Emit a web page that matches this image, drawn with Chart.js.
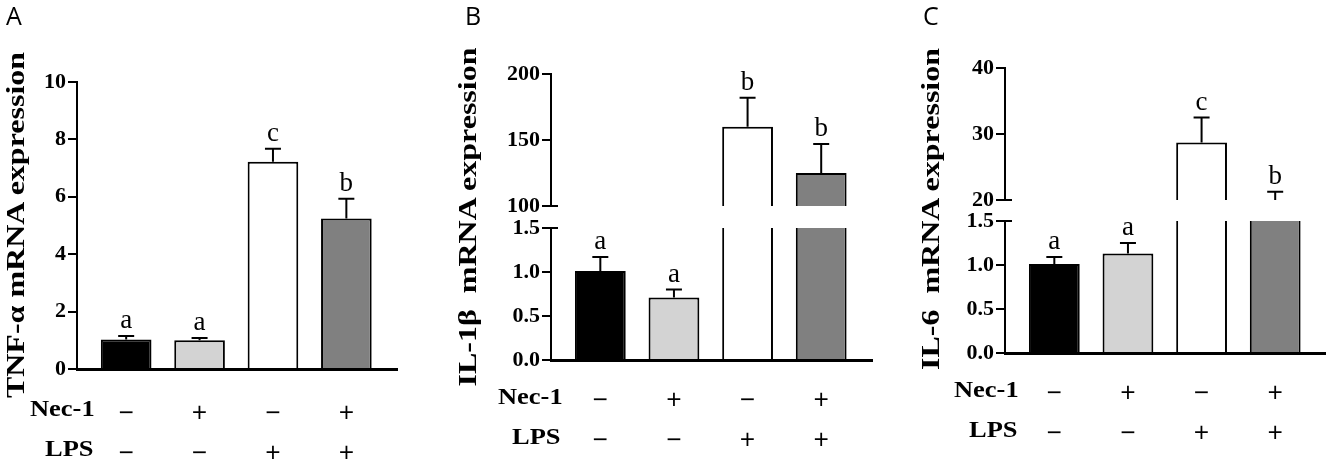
<!DOCTYPE html>
<html>
<head>
<meta charset="utf-8">
<script src="https://cdn.jsdelivr.net/npm/chart.js@4.4.1/dist/chart.umd.min.js"></script>
<style>
html,body{margin:0;padding:0;background:#fff}
body{width:1326px;height:459px;position:relative;overflow:hidden}
canvas{position:absolute;top:0}
.t{position:absolute;white-space:nowrap;line-height:1;color:#000}
.panel{font-family:'Open Sans';font-size:25px}
.row{font-family:'Liberation Serif';font-weight:bold;font-size:23px;transform-origin:0 0;transform:scaleX(1.15)}
.ytitle{font-family:'Liberation Serif';font-weight:bold;font-size:32px;transform:translate(-50%,-50%) rotate(-90deg) scaleY(0.78)}
</style>
</head>
<body>
<canvas id="cA" width="440" height="459" style="left:0px"></canvas>
<canvas id="cBbot" width="440" height="459" style="left:440px"></canvas>
<canvas id="cBtop" width="440" height="459" style="left:440px"></canvas>
<canvas id="cCbot" width="440" height="459" style="left:886px"></canvas>
<canvas id="cCtop" width="440" height="459" style="left:886px"></canvas>

<div class="t panel" style="left:6px;top:3px">A</div>
<div class="t panel" style="left:465px;top:3px">B</div>
<div class="t panel" style="left:923px;top:3px">C</div>

<div class="t ytitle" style="left:15px;top:225px">TNF-α mRNA expression</div>
<div class="t ytitle" style="left:467px;top:217px">IL-1β&nbsp; mRNA expression</div>
<div class="t ytitle" style="left:930px;top:209px">IL-6&nbsp; mRNA expression</div>

<div class="t row" style="left:30px;top:397px">Nec-1</div>
<div class="t row" style="left:45px;top:437px">LPS</div>
<div class="t row" style="left:498px;top:385px">Nec-1</div>
<div class="t row" style="left:512px;top:425px">LPS</div>
<div class="t row" style="left:954px;top:378px">Nec-1</div>
<div class="t row" style="left:969px;top:418px">LPS</div>

<script>
// ---- data ----
const groupIndex = [0, 1, 2, 3];
const nec1Signs = ['\u2212', '+', '\u2212', '+'];
const lpsSigns  = ['\u2212', '\u2212', '+', '+'];

const tnfMean    = [1.03, 1.00, 7.22, 5.24];
const tnfSD      = [0.12, 0.08, 0.45, 0.69];
const tnfLetters = ['a', 'a', 'c', 'b'];
const tnfTicks   = [0, 2, 4, 6, 8, 10];

const il1bMean    = [1.01, 0.71, 160, 125];
const il1bSD      = [0.16, 0.09, 22, 22];
const il1bLetters = ['a', 'a', 'b', 'b'];
const il1bTicksUpper = [100, 150, 200];
const il1bTicksLower = [0, 0.5, 1.0, 1.5];

const il6Mean    = [1.01, 1.13, 28.7, 18.5];
const il6SD      = [0.08, 0.12, 3.8, 2.75];
const il6Letters = ['a', 'a', 'c', 'b'];
const il6TicksUpper = [20, 30, 40];
const il6TicksLower = [0, 0.5, 1.0, 1.5];

// ---- styles ----
const barFill = ['#000000', '#d3d3d3', '#ffffff', '#808080'];

const errPlugin = {
  id: 'err',
  afterDatasetsDraw(chart, args, o) {
    const ctx = chart.ctx, ca = chart.chartArea;
    const xs = chart.scales.x, ys = chart.scales.y;
    ctx.save();
    ctx.strokeStyle = '#000'; ctx.fillStyle = '#000'; ctx.lineWidth = 2;
    o.mean.forEach((m, i) => {
      const top = m + o.sd[i];
      if (top < ys.min || top > ys.max) return;
      const x = xs.getPixelForValue(groupIndex[i]);
      const y0 = ys.getPixelForValue(Math.max(m, ys.min));
      const y1 = ys.getPixelForValue(top);
      ctx.beginPath();
      ctx.moveTo(x, y0); ctx.lineTo(x, y1);
      ctx.moveTo(x - 8, y1); ctx.lineTo(x + 8, y1);
      ctx.stroke();
      ctx.font = '27px "Liberation Serif"';
      ctx.textAlign = 'center'; ctx.textBaseline = 'alphabetic';
      ctx.fillText(o.letters[i], x, y1 - 8);
    });
    if (o.breakAt) {
      const y = o.breakAt === 'bottom' ? ca.bottom : ca.top;
      ctx.beginPath(); ctx.moveTo(ca.left, y); ctx.lineTo(ca.left + 7, y); ctx.stroke();
    }
    ctx.restore();
  }
};

function seg(id, p) {
  return new Chart(document.getElementById(id), {
    type: 'bar',
    data: {
      datasets: [{
        data: p.mean.map((v, i) => ({ x: groupIndex[i], y: v })),
        backgroundColor: barFill,
        borderColor: '#000', borderWidth: 2, borderSkipped: 'start',
        barPercentage: 0.69, categoryPercentage: 1, clip: 0
      }]
    },
    options: {
      responsive: false, animation: false, events: [],
      layout: { padding: { left: 0, right: p.right, top: p.top, bottom: p.bottom } },
      plugins: {
        legend: { display: false }, tooltip: { enabled: false },
        err: { mean: p.mean, sd: p.sd, letters: p.letters, breakAt: p.breakAt }
      },
      scales: {
        x: {
          type: 'linear', display: p.showX, min: -0.67, max: 3.69, offset: false,
          grid: { display: false },
          border: { display: true, color: '#000', width: 3 },
          afterBuildTicks: s => { s.ticks = groupIndex.map(v => ({ value: v })); },
          ticks: {
            callback: v => [nec1Signs[v], lpsSigns[v]],
            padding: p.xpad, color: '#000', maxRotation: 0, autoSkip: false,
            font: { family: 'Open Sans', size: 27, lineHeight: '40px' }
          },
          afterFit: s => { if (p.showX) s.height = p.xh; }
        },
        y: {
          min: p.min, max: p.max,
          afterBuildTicks: s => { s.ticks = p.ticks.map(v => ({ value: v })); },
          afterFit: s => { s.width = p.axisX; },
          ticks: {
            callback: v => p.dec ? Number(v).toFixed(1) : String(v),
            font: { family: 'Liberation Serif', weight: 'bold', size: 22 },
            color: '#000', padding: 2
          },
          grid: { display: true, drawOnChartArea: false, drawTicks: true, tickLength: 9, color: '#000', lineWidth: 2 },
          border: { display: true, color: '#000', width: 2 }
        }
      }
    },
    plugins: [errPlugin]
  });
}

// Panel A
seg('cA', { mean: tnfMean, sd: tnfSD, letters: tnfLetters, ticks: tnfTicks, min: 0, max: 10, dec: false,
  showX: true, xh: 90, xpad: 17, top: 82, bottom: 0, right: 43, axisX: 77 });
// Panel B
seg('cBbot', { mean: il1bMean, sd: il1bSD, letters: il1bLetters, ticks: il1bTicksLower, min: 0, max: 1.5, dec: true,
  showX: true, xh: 99, xpad: 13, top: 228, bottom: 0, right: 8, axisX: 111, breakAt: 'top' });
seg('cBtop', { mean: il1bMean, sd: il1bSD, letters: il1bLetters, ticks: il1bTicksUpper, min: 100, max: 200, dec: false,
  showX: false, top: 74, bottom: 253, right: 8, axisX: 111, breakAt: 'bottom' });
// Panel C
seg('cCbot', { mean: il6Mean, sd: il6SD, letters: il6Letters, ticks: il6TicksLower, min: 0, max: 1.5, dec: true,
  showX: true, xh: 106, xpad: 13, top: 221, bottom: 0, right: 0, axisX: 119, breakAt: 'top' });
seg('cCtop', { mean: il6Mean, sd: il6SD, letters: il6Letters, ticks: il6TicksUpper, min: 20, max: 40, dec: false,
  showX: false, top: 68, bottom: 259, right: 0, axisX: 119, breakAt: 'bottom' });
</script>
</body>
</html>
